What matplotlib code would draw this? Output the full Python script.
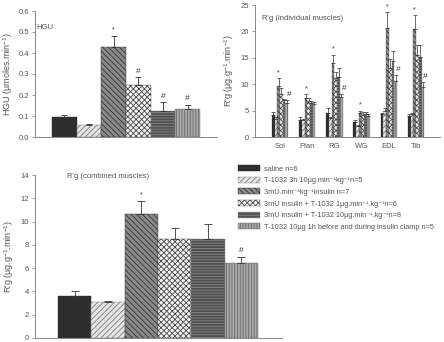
import matplotlib
matplotlib.use("Agg")
import matplotlib.pyplot as plt
import matplotlib.patches as mpatches
import numpy as np

plt.rcParams['font.family'] = ['Liberation Sans', 'DejaVu Sans']
plt.rcParams['mathtext.fontset'] = 'custom'
plt.rcParams['mathtext.rm'] = 'Liberation Sans'
plt.rcParams['mathtext.it'] = 'Liberation Sans:italic'
plt.rcParams['hatch.linewidth'] = 0.6

TXT = '#555555'
AX = '#888888'

groups = ["saline n=6",
          "T-1032 3h 10µg.min⁻¹kg⁻¹n=5",
          "3mU.min⁻¹kg⁻¹insulin n=7",
          "3mU insulin + T-1032 1µg.min⁻¹.kg⁻¹n=6",
          "3mU insulin + T-1032 10µg.min⁻¹.kg⁻¹n=8",
          "T-1032 10µg 1h before and during insulin clamp n=5"]

# HGU
hgu = [0.094, 0.056, 0.43, 0.246, 0.125, 0.132]
hgu_err = [0.009, 0.006, 0.05, 0.038, 0.04, 0.019]
hgu_marks = ['', '', '*', '#', '#', '#']

# R'g individual muscles
muscles = ['Sol', 'Plan', 'RG', 'WG', 'EDL', 'Tib']
ind = {
    'Sol':  [4.2, 3.4, 9.7, 8.1, 7.0, 6.4],
    'Plan': [3.3, 3.2, 7.4, 6.8, 6.5, 6.3],
    'RG':   [4.6, 3.6, 14.1, 11.1, 11.4, 7.6],
    'WG':   [2.9, 2.0, 4.5, 4.2, 4.4, 4.0],
    'EDL':  [4.3, 5.0, 20.7, 13.0, 14.3, 10.6],
    'Tib':  [3.9, 4.3, 20.4, 15.5, 15.2, 9.4],
}
ind_err = {
    'Sol':  [0.6, 0.3, 1.4, 1.1, 0.2, 0.6],
    'Plan': [0.5, 0.2, 0.8, 0.6, 0.4, 0.3],
    'RG':   [0.9, 0.2, 1.5, 1.3, 1.6, 0.6],
    'WG':   [0.3, 0.2, 0.5, 0.5, 0.3, 0.3],
    'EDL':  [0.3, 0.4, 2.9, 1.8, 2.0, 1.1],
    'Tib':  [0.4, 0.3, 2.7, 2.0, 2.3, 1.1],
}
ind_hash = ['Sol', 'RG', 'EDL', 'Tib']

# R'g combined muscles
comb = [3.6, 3.05, 10.65, 8.5, 8.5, 6.4]
comb_err = [0.4, 0.15, 1.1, 0.95, 1.3, 0.6]
comb_marks = ['', '', '*', '', '', '#']

styles = [
    dict(facecolor='#2e2e2e', edgecolor='#2e2e2e', hatch=None),
    dict(facecolor='#e6e6e6', edgecolor='#7a7a7a', hatch='//////'),
    dict(facecolor='#8a8a8a', edgecolor='#333333', hatch='\\\\\\\\\\\\'),
    dict(facecolor='#f2f2f2', edgecolor='#4a4a4a', hatch='xxxxxx'),
    dict(facecolor='#505050', edgecolor='#858585', hatch='------'),
    dict(facecolor='#a8a8a8', edgecolor='#6a6a6a', hatch='||||||'),
]


def style_ax(ax):
    for s in ['top', 'right']:
        ax.spines[s].set_visible(False)
    for s in ['left', 'bottom']:
        ax.spines[s].set_color(AX)
        ax.spines[s].set_linewidth(0.7)
    ax.tick_params(axis='y', colors=AX, labelcolor=TXT, labelsize=5.5,
                   length=2.5, width=0.6, pad=2)
    ax.tick_params(axis='x', length=0, labelcolor=TXT, labelsize=5.5, pad=4)


fig = plt.figure(figsize=(4.44, 3.42), dpi=100)

# panel 1: HGU
ax1 = fig.add_axes([35/444, 1-137/342, 182/444, 126/342])
x = np.arange(6)
for i in range(6):
    ax1.bar(x[i], hgu[i], width=1.0, linewidth=0.3, **styles[i])
ax1.errorbar(x, hgu, yerr=[np.zeros(6), hgu_err], fmt='none', ecolor='#333333',
             elinewidth=0.6, capsize=2.5, capthick=0.6)
for i, m in enumerate(hgu_marks):
    if m:
        ax1.text(x[i], hgu[i]+hgu_err[i]+0.03, m, ha='center', va='center',
                 fontsize=6 if m == '#' else 5, color='#333333')
ax1.set_xlim(-1.19, 6.19)
ax1.set_ylim(0, 0.6)
ax1.set_yticks(np.arange(0, 0.61, 0.1))
ax1.set_yticklabels(['%.1f' % v for v in np.arange(0, 0.61, 0.1)])
ax1.set_xticks([])
style_ax(ax1)
ax1.set_ylabel('HGU (µmoles.min$^{-1}$)', fontsize=6.5, color=TXT, labelpad=2)
ax1.text(0.005, 0.87, 'HGU', transform=ax1.transAxes, fontsize=5.5,
         color=TXT, ha='left', va='center')

# panel 2: individual muscles
ax2 = fig.add_axes([255/444, 1-137/342, 185/444, 132/342])
bw = 0.1
for g, mus in enumerate(muscles):
    vals = ind[mus]
    errs = ind_err[mus]
    xs = g + (np.arange(6) - 2.5) * bw
    for i in range(6):
        ax2.bar(xs[i], vals[i], width=bw, linewidth=0.2, **styles[i])
    ax2.errorbar(xs, vals, yerr=[np.zeros(6), errs], fmt='none', ecolor='#333333',
                 elinewidth=0.5, capsize=1.2, capthick=0.5)
    ax2.text(xs[2], vals[2]+errs[2]+1.0, '*', ha='center', va='center',
             fontsize=5, color='#333333')
    if mus in ind_hash:
        ax2.text(xs[5]+0.1, vals[5]+errs[5]+1.0, '#', ha='center', va='center',
                 fontsize=6, color='#333333')
ax2.set_xlim(-0.92, 5.88)
ax2.set_ylim(0, 25)
ax2.set_yticks([0, 5, 10, 15, 20, 25])
ax2.set_xticks(np.arange(6))
ax2.set_xticklabels(muscles)
style_ax(ax2)
ax2.set_ylabel("R'g (µg.g$^{-1}$.min$^{-1}$)", fontsize=6.5, color=TXT, labelpad=3)
ax2.text(0.04, 0.9, "R'g (individual muscles)", transform=ax2.transAxes,
         fontsize=5.5, color=TXT, ha='left', va='center')

# panel 3: combined muscles
ax3 = fig.add_axes([35/444, 1-338/342, 247/444, 163/342])
for i in range(6):
    ax3.bar(x[i], comb[i], width=1.0, linewidth=0.3, **styles[i])
ax3.errorbar(x, comb, yerr=[np.zeros(6), comb_err], fmt='none', ecolor='#333333',
             elinewidth=0.6, capsize=3, capthick=0.6)
for i, m in enumerate(comb_marks):
    if m:
        ax3.text(x[i], comb[i]+comb_err[i]+0.55, m, ha='center', va='center',
                 fontsize=6 if m == '#' else 5, color='#333333')
ax3.set_xlim(-1.19, 6.22)
ax3.set_ylim(0, 14)
ax3.set_yticks(np.arange(0, 15, 2))
ax3.set_xticks([])
style_ax(ax3)
ax3.set_ylabel("R'g (µg.g$^{-1}$.min$^{-1}$)", fontsize=6.5, color=TXT, labelpad=3)
ax3.text(0.13, 0.99, "R'g (combined muscles)", transform=ax3.transAxes,
         fontsize=5.5, color=TXT, ha='left', va='center')

handles = [mpatches.Patch(linewidth=0.3, label=groups[i], **styles[i]) for i in range(6)]
fig.legend(handles=handles, loc='upper left', bbox_to_anchor=(238/444, 1-165/342),
           frameon=False, fontsize=5.3, handlelength=3.0, handleheight=0.9,
           labelspacing=0.55, handletextpad=0.5, borderaxespad=0, borderpad=0,
           labelcolor=TXT)

fig.savefig('out.png', dpi=100)
